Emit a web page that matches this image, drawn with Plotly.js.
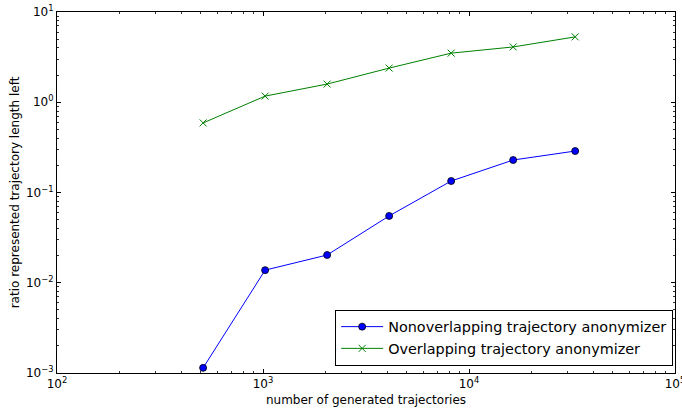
<!DOCTYPE html>
<html>
<head>
<meta charset="utf-8">
<script src="https://cdn.plot.ly/plotly-3.0.1.min.js"></script>
<style>html,body{margin:0;padding:0;background:#fff;}#chart{width:682px;height:411px;}</style>
</head>
<body>
<div id="chart"></div>
<script>
const trajectories = [512, 1024, 2048, 4096, 8192, 16384, 32768];
const nonoverlapping = [0.00114, 0.0138, 0.0203, 0.055, 0.134, 0.229, 0.288];
const overlapping = [0.59, 1.17, 1.59, 2.39, 3.5, 4.1, 5.3];
const seriesNames = ["Nonoverlapping trajectory anonymizer", "Overlapping trajectory anonymizer"];
const xTickVals = [100, 1000, 10000, 100000];
const xTickText = ["10<sup>2</sup>", "10<sup>3</sup>", "10<sup>4</sup>", "10<sup>5</sup>"];
const yTickVals = [0.001, 0.01, 0.1, 1, 10];
const yTickText = ["10<sup>−3</sup>", "10<sup>−2</sup>", "10<sup>−1</sup>", "10<sup>0</sup>", "10<sup>1</sup>"];

const font = "DejaVu Sans, sans-serif";
const traces = [
  {
    x: trajectories, y: nonoverlapping, name: seriesNames[0],
    mode: "lines+markers", type: "scatter",
    line: {color: "#0000ff", width: 1},
    marker: {symbol: "circle", size: 7, color: "#0000ff", line: {color: "#000", width: 0.8}},
    cliponaxis: false
  },
  {
    x: trajectories, y: overlapping, name: seriesNames[1],
    mode: "lines+markers", type: "scatter",
    line: {color: "#008000", width: 1},
    marker: {symbol: "x-thin", size: 7, color: "#008000", line: {color: "#008000", width: 1}},
    cliponaxis: false
  }
];
const axisCommon = {
  type: "log", showgrid: false, zeroline: false,
  showline: true, linecolor: "#000", linewidth: 1, mirror: "allticks",
  ticks: "inside", ticklen: 4, tickwidth: 1, tickcolor: "#000",
  tickmode: "array", ticklabeloverflow: "allow",
  tickfont: {family: font, size: 12, color: "#000"},
  minor: {ticks: "inside", ticklen: 2, tickwidth: 0.8, tickcolor: "#000", showgrid: false, dtick: "D1"}
};
const layout = {
  width: 682, height: 411,
  margin: {l: 57, r: 7, t: 12, b: 38},
  paper_bgcolor: "#fff", plot_bgcolor: "#fff",
  showlegend: true,
  xaxis: Object.assign({}, axisCommon, {
    range: [2, 5], tickvals: xTickVals, ticktext: xTickText,
    title: {text: "number of generated trajectories", font: {family: font, size: 12, color: "#000"}, standoff: 5}
  }),
  yaxis: Object.assign({}, axisCommon, {
    range: [-3, 1], tickvals: yTickVals, ticktext: yTickText,
    title: {text: "ratio represented trajectory length left", font: {family: font, size: 12, color: "#000"}, standoff: 3}
  }),
  legend: {
    x: 0.997, y: 0.02, xanchor: "right", yanchor: "bottom",
    bgcolor: "#fff", bordercolor: "#000", borderwidth: 1,
    font: {family: font, size: 14.4, color: "#000"},
    itemwidth: 42,
    tracegroupgap: 0
  }
};
Plotly.newPlot("chart", traces, layout, {displayModeBar: false, staticPlot: true});
</script>
</body>
</html>
